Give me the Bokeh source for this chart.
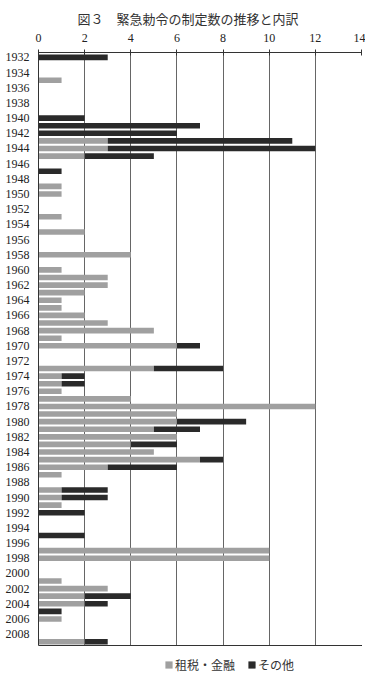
from bokeh.plotting import figure
from bokeh.layouts import column
from bokeh.models import Range1d, FixedTicker, Legend, LegendItem, ColumnDataSource
from bokeh.embed import file_html
from bokeh.resources import INLINE

title_text = "図３　緊急勅令の制定数の推移と内訳"
series_names = ["租税・金融", "その他"]
years = list(range(1932, 2010))
tax = [0, 0, 0, 1, 0, 0, 0, 0, 0, 0,
       0, 3, 3, 2, 0, 0, 0, 1, 1, 0,
       0, 1, 0, 2, 0, 0, 4, 0, 1, 3,
       3, 2, 1, 1, 2, 3, 5, 1, 6, 0,
       0, 5, 1, 1, 1, 4, 12, 6, 6, 5,
       6, 4, 5, 7, 3, 1, 0, 1, 1, 1,
       0, 0, 0, 0, 0, 10, 10, 0, 0, 1,
       3, 2, 2, 0, 1, 0, 0, 2]
other = [3, 0, 0, 0, 0, 0, 0, 0, 2, 7,
         6, 8, 9, 3, 0, 1, 0, 0, 0, 0,
         0, 0, 0, 0, 0, 0, 0, 0, 0, 0,
         0, 0, 0, 0, 0, 0, 0, 0, 1, 0,
         0, 3, 1, 1, 0, 0, 0, 0, 3, 2,
         0, 2, 0, 1, 3, 0, 0, 2, 2, 0,
         2, 0, 0, 2, 0, 0, 0, 0, 0, 0,
         0, 2, 1, 1, 0, 0, 0, 1]
x_ticks = [0, 2, 4, 6, 8, 10, 12, 14]
y_ticks = list(range(1932, 2009, 2))

GRAY = "#a0a0a0"
BLACK = "#2a2a2a"
SERIF = "Liberation Serif"
CJK = "Noto Sans CJK JP"

source = ColumnDataSource(dict(year=years, tax=tax, other=other))

p = figure(frame_width=323, frame_height=593, output_backend="svg", toolbar_location=None,
           x_range=Range1d(0, 14), y_range=Range1d(2009.5, 1931.35),
           x_axis_location="above",
           min_border_left=38, min_border_right=4, min_border_top=52, min_border_bottom=0)
p.outline_line_color = None

renderers = p.hbar_stack(["tax", "other"], y="year", height=0.74,
                         color=[GRAY, BLACK], line_color=None, source=source)

p.title.text = title_text
p.title.align = "left"
p.title.offset = 39
p.title.standoff = 5
p.title.text_font = CJK
p.title.text_font_size = "13px"
p.title.text_font_style = "normal"
p.title.text_color = "#333333"

xa = p.xaxis[0]
xa.ticker = FixedTicker(ticks=x_ticks)
xa.major_label_text_font = SERIF
xa.major_label_text_font_size = "12px"
xa.major_label_text_color = "#222222"
xa.major_tick_in = 3
xa.major_tick_out = 3
xa.minor_tick_line_color = None
xa.axis_line_color = "#333333"
xa.major_tick_line_color = "#333333"
xa.major_label_standoff = 8

ya = p.yaxis[0]
ya.ticker = FixedTicker(ticks=y_ticks)
ya.major_label_text_font = SERIF
ya.major_label_text_font_size = "12px"
ya.major_label_text_color = "#222222"
ya.major_tick_line_color = None
ya.minor_tick_line_color = None
ya.axis_line_color = "#333333"
ya.major_label_standoff = 3

p.xgrid.ticker = FixedTicker(ticks=x_ticks)
p.xgrid.grid_line_color = "#666666"
p.ygrid.grid_line_color = None

# legend strip below the chart (same series, drawn outside its visible range)
lp = figure(width=365, height=33, output_backend="svg", toolbar_location=None,
            x_range=Range1d(0, 1), y_range=Range1d(0, 1),
            x_axis_location=None, y_axis_location=None,
            min_border=0, min_border_left=0, min_border_right=0,
            min_border_top=0, min_border_bottom=0)
lp.outline_line_color = None
lp.xgrid.visible = False
lp.ygrid.visible = False
legend_renderers = lp.hbar_stack(["tax", "other"], y="year", height=0.74,
                                 color=[GRAY, BLACK], line_color=None, source=source)

legend = Legend(items=[LegendItem(label=series_names[0], renderers=[legend_renderers[0]]),
                       LegendItem(label=series_names[1], renderers=[legend_renderers[1]])],
                orientation="horizontal", location=(126, 5),
                glyph_width=9, glyph_height=9, label_standoff=2, spacing=12,
                label_text_font=CJK, label_text_font_size="12px", label_text_color="#333333",
                border_line_color=None, background_fill_alpha=0, padding=4, margin=0)
lp.add_layout(legend, "center")

layout = column(p, lp, spacing=0)
open("out.html", "w").write(file_html(layout, INLINE))
